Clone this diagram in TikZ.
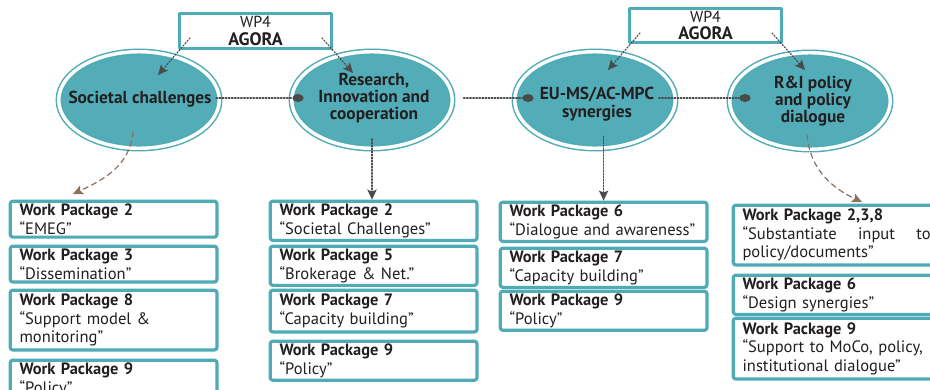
\documentclass[tikz,border=0pt]{standalone}
\usepackage{fontspec}
\setmainfont{PT Sans}
\usepackage{tikz}
\usetikzlibrary{arrows.meta,positioning,shapes.geometric}
\definecolor{tealfill}{HTML}{53ADB8}
\definecolor{tealedge}{HTML}{4FABB5}
\definecolor{ink}{HTML}{231F20}
\definecolor{linkgray}{HTML}{4A4A4A}
\definecolor{linkbrown}{HTML}{8C7062}
\newcommand\wptitle[1]{{\fontsize{12.3}{14}\selectfont\bfseries Work Package #1}}
\tikzset{
  bubble/.style={ellipse,fill=tealfill,draw=tealedge,double=white,double distance=2.6pt,
    line width=1.1pt,minimum width=120.4pt,minimum height=72.4pt,inner sep=0pt},
  bubbletext/.style={align=center,text=ink,font=\bfseries\fontsize{13}{13}\selectfont},
  agora/.style={draw=tealedge,line width=2.4pt,fill=white,minimum width=113.9pt,
    minimum height=26pt,inner sep=0pt,align=center,text=ink,font=\fontsize{12}{13}\selectfont},
  wpbox/.style={draw=tealedge,line width=2.4pt,rounded corners=2pt,fill=white,anchor=north west,
    minimum width=155.1pt,text width=141.1pt,inner xsep=7pt,inner ysep=2pt,align=left,
    text=ink,font=\fontsize{12.4}{14}\selectfont},
  joint/.style={ellipse,fill=linkgray,inner sep=0pt,minimum width=8.5pt,minimum height=6pt},
  link/.style={linkgray,line width=1.1pt,dash pattern=on 1pt off 1.3pt},
  feed/.style={linkbrown,line width=0.9pt,dash pattern=on 4pt off 3pt},
  tip/.style={-{Stealth[length=7.5pt,width=7pt,inset=1.5pt]}}
}

\begin{document}
\begin{tikzpicture}[x=0.75pt,y=-0.75pt,line cap=round,line join=round]
  % frame of the reference
  \useasboundingbox (0,0) rectangle (930,389);
  \clip (0,0) rectangle (930,389);

  % WP4 boxes
  \node[agora] (wa) at (255.5,31) {WP4\\{\fontsize{13.5}{13}\selectfont\bfseries AGORA}};
  \node[agora] (wb) at (705.5,25.5) {WP4\\{\fontsize{13.5}{13}\selectfont\bfseries AGORA}};

  % topics
  \node[bubble] (sc) at (139,100) {};
  \node[bubble] (ri) at (372,100) {};
  \node[bubble] (sy) at (595,100) {};
  \node[bubble] (pd) at (810,101) {};
  \node[bubbletext] (sct) at (140,99) {Societal challenges};
  \node[bubbletext] (rit) at (374,98) {Research,\\Innovation and\\cooperation};
  \node[bubbletext] (syt) at (597,104) {EU-MS/AC-MPC\\synergies};
  \node[bubbletext] (pdt) at (813,101) {R\&I policy\\and policy\\dialogue};

  % chain between topics
  \node[joint] (j1) at (298,98) {};
  \node[joint] (j2) at (528,98) {};
  \node[joint] (j3) at (745,98) {};
  \draw[link] (sct.east |- j1) -- (j1);
  \draw[link,shorten <=8pt] (ri.east |- j2) -- (j2);
  \draw[link] (syt.east |- j3) -- (j3);

  % AGORA feeds
  \coordinate (a1) at (190,38);  \coordinate (b1) at (158,75);
  \coordinate (a2) at (322,38);  \coordinate (b2) at (353,73);
  \coordinate (a3) at (640,33);  \coordinate (b3) at (608,70);
  \coordinate (a4) at (772,33);  \coordinate (b4) at (805,70);
  \draw[link,line width=0.9pt,tip] (a1) -- (b1);
  \draw[link,line width=0.9pt,tip] (a2) -- (b2);
  \draw[link,line width=0.9pt,tip] (a3) -- (b3);
  \draw[link,line width=0.9pt,tip] (a4) -- (b4);

  % work packages, column 1
  \node[wpbox,minimum height=26.85pt] (c1a) at (8.6,199.6) {\wptitle{2}\\“EMEG”};
  \node[wpbox,minimum height=26.85pt] (c1b) at (8.6,244.6) {\wptitle{3}\\“Dissemination”};
  \node[wpbox,minimum height=44.85pt] (c1c) at (8.6,288.6) {\wptitle{8}\\“Support model \&\\monitoring”};
  \node[wpbox] (c1d) at (8.6,358.6) {\wptitle{9}\\“Policy”\\\strut};

  % work packages, column 2
  \node[wpbox,minimum height=26.85pt] (c2a) at (268.6,199.6) {\wptitle{2}\\“Societal Challenges”};
  \node[wpbox,minimum height=26.85pt] (c2b) at (268.6,244.6) {\wptitle{5}\\“Brokerage \& Net.”};
  \node[wpbox,minimum height=31.35pt] (c2c) at (268.6,288.6) {\wptitle{7}\\“Capacity building”};
  \node[wpbox,minimum height=26.85pt] (c2d) at (268.6,339.6) {\wptitle{9}\\“Policy”};

  % work packages, column 3
  \node[wpbox,minimum height=26.85pt] (c3a) at (498.6,200.6) {\wptitle{6}\\“Dialogue and awareness”};
  \node[wpbox,minimum height=26.1pt] (c3b) at (498.6,246.6) {\wptitle{7}\\“Capacity building”};
  \node[wpbox,minimum height=26.1pt] (c3c) at (498.6,289.6) {\wptitle{9}\\“Policy”};

  % work packages, column 4
  \node[wpbox,minimum height=44.85pt] (c4a) at (731.6,203.6)
    {\wptitle{2,3,8}\\“Substantiate\hfill input\hfill to\\policy/documents”};
  \node[wpbox,minimum height=24.6pt] (c4b) at (731.6,273.6) {\wptitle{6}\\“Design synergies”};
  \node[wpbox,minimum height=45.6pt] (c4c) at (731.6,316.6) {\wptitle{9}\\“Support to MoCo, policy,\\institutional dialogue”};

  % topics down to packages
  \draw[link,tip,shorten <=-7.5pt] (ri.south) -- (ri.south |- c2a.north);
  \draw[link,tip,shorten <=-9.5pt] (sy.south -| c3a.north) -- (c3a.north);
  \coordinate (f1) at (133,132); \coordinate (g1) at (73,194);
  \coordinate (f4) at (807,135); \coordinate (g4) at (862,202);
  \draw[feed,tip] (f1) to[out=-95,in=25] (g1);
  \draw[feed,tip] (f4) to[out=-85,in=155] (g4);
\end{tikzpicture}
\end{document}
